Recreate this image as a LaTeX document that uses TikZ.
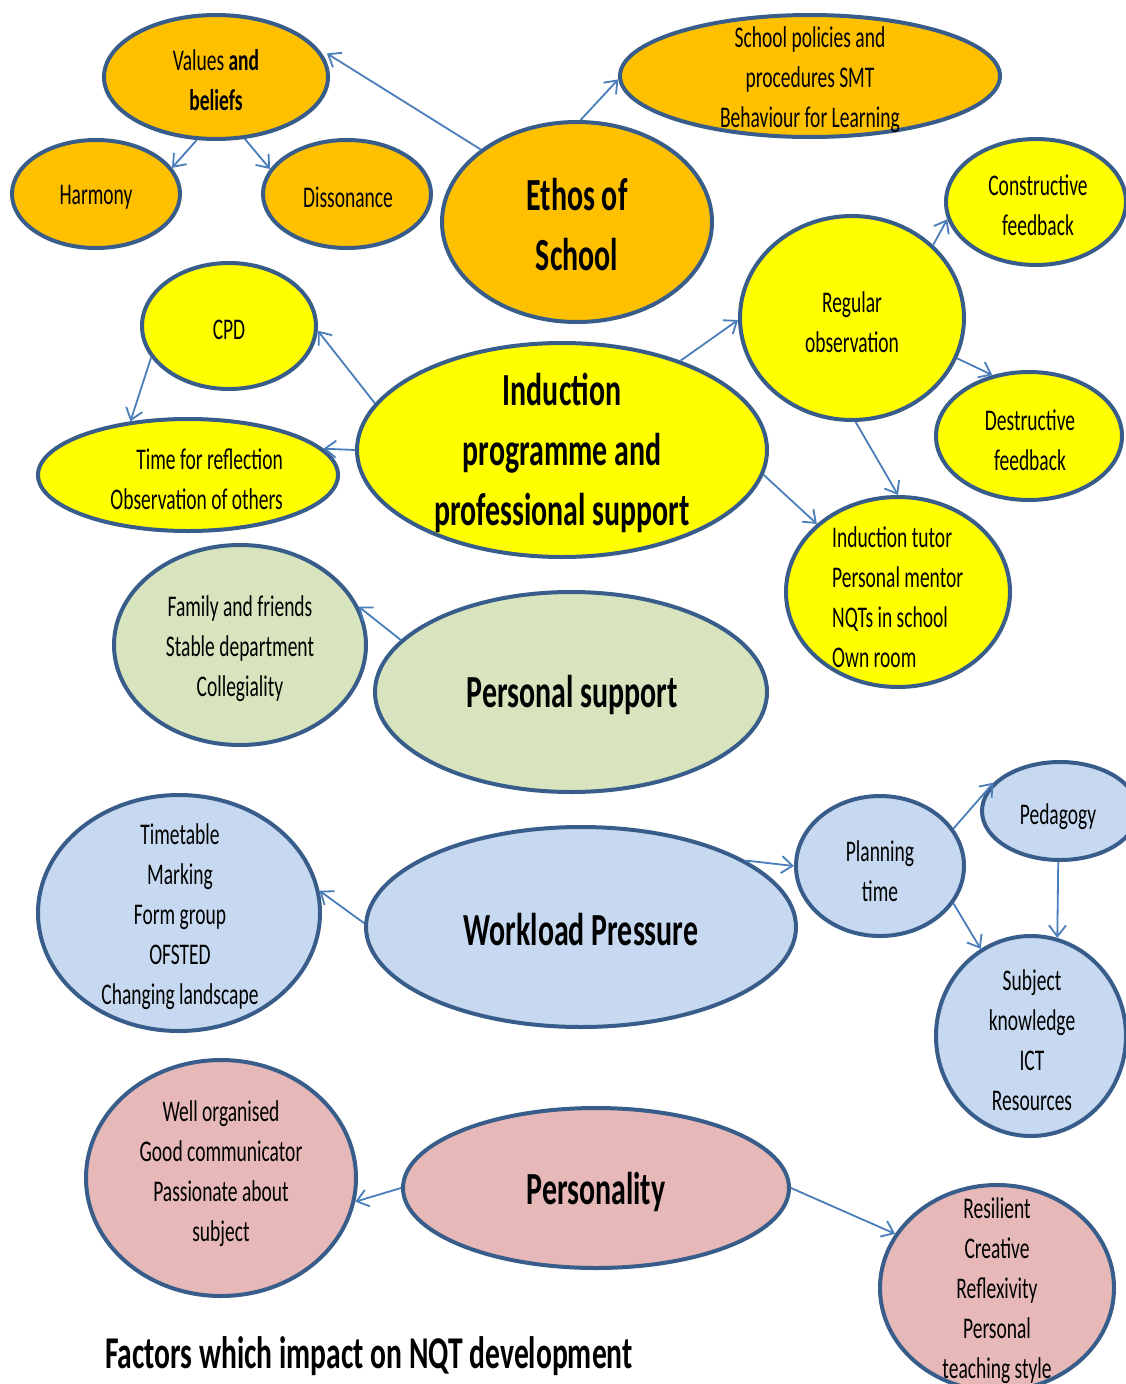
\documentclass[tikz,border=0pt]{standalone}
\usepackage{fontspec}
\setmainfont{Carlito}[FakeStretch=0.65]
\usetikzlibrary{shapes.geometric,arrows.meta}
\definecolor{orangeF}{HTML}{FFC000}
\definecolor{yellowF}{HTML}{FFFF00}
\definecolor{greenF}{HTML}{D7E4BD}
\definecolor{blueF}{HTML}{C6D9F1}
\definecolor{pinkF}{HTML}{E6B9B8}
\definecolor{edgeC}{HTML}{385D8A}
\definecolor{arrC}{HTML}{4A7EBB}
\tikzset{
  ell/.style={ellipse, draw=edgeC, line width=4pt, inner sep=0pt},
  arr/.style={draw=arrC, line width=1.8pt, -{Straight Barb[length=11pt,width=17pt,line width=1.8pt]}},
  txt/.style={font=\fontsize{30}{40}\selectfont, align=center, inner sep=0pt, yshift=-2pt},
  bigtxt/.style={font=\fontsize{46}{60}\selectfont\bfseries, align=center, inner sep=0pt},
}
\begin{document}
\begin{tikzpicture}[x=1pt,y=-1pt]
\useasboundingbox (0,0) rectangle (1126,1384);
% ellipses
\node[ell, fill=orangeF, minimum width=224, minimum height=124] (values) at (216,77) {};
\node[ell, fill=orangeF, minimum width=168, minimum height=108] (harmony) at (96,194) {};
\node[ell, fill=orangeF, minimum width=168, minimum height=108] (dissonance) at (347,194) {};
\node[ell, fill=orangeF, minimum width=270, minimum height=200] (ethos) at (577,222) {};
\node[ell, fill=orangeF, minimum width=380, minimum height=122] (policies) at (810,76) {};
\node[ell, fill=yellowF, minimum width=180, minimum height=126] (constructive) at (1036,202) {};
\node[ell, fill=yellowF, minimum width=224, minimum height=204] (regular) at (852,318) {};
\node[ell, fill=yellowF, minimum width=186, minimum height=128] (destructive) at (1029,436) {};
\node[ell, fill=yellowF, minimum width=174, minimum height=126] (cpd) at (229,326) {};
\node[ell, fill=yellowF, minimum width=300, minimum height=112] (reflection) at (188,475) {};
\node[ell, fill=yellowF, minimum width=410, minimum height=214] (induction) at (562,450) {};
\node[ell, fill=yellowF, minimum width=224, minimum height=190] (tutor) at (898,592) {};
\node[ell, fill=greenF, minimum width=252, minimum height=200] (family) at (240,645) {};
\node[ell, fill=greenF, minimum width=392, minimum height=200] (personal) at (571,692) {};
\node[ell, fill=blueF, minimum width=282, minimum height=236] (timetable) at (179,913) {};
\node[ell, fill=blueF, minimum width=430, minimum height=200] (workload) at (581,927) {};
\node[ell, fill=blueF, minimum width=168, minimum height=140] (planning) at (880,866) {};
\node[ell, fill=blueF, minimum width=156, minimum height=98] (pedagogy) at (1060,811) {};
\node[ell, fill=blueF, minimum width=190, minimum height=200] (subject) at (1031,1036) {};
\node[ell, fill=pinkF, minimum width=270, minimum height=236] (wellorg) at (221,1178) {};
\node[ell, fill=pinkF, minimum width=386, minimum height=160] (personality) at (596,1188) {};
\node[ell, fill=pinkF, minimum width=234, minimum height=206] (resilient) at (997,1288) {};
% connectors
\draw[arr] (ethos.143) -- ([shift={(8pt,-4pt)}]values.15);
\draw[arr] (ethos.88) -- (policies.181);
\draw[arr] (values.253) -- (harmony.19);
\draw[arr] (values.295) -- (dissonance.162);
\draw[arr] (induction.166) -- (cpd.357);
\draw[arr] (induction.180) -- (reflection.11);
\draw[arr] (cpd.202) -- (reflection.137);
\draw[arr] (induction.37) -- (regular.181);
\draw[arr] (induction.353) -- (tutor.140);
\draw[arr] (regular.42) -- (constructive.191);
\draw[arr] (regular.339) -- (destructive.121);
\draw[arr] (regular.272) -- (tutor.90);
\draw[arr] (personal.163) -- (family.18);
\draw[arr] (workload.179) -- (timetable.9);
\draw[arr] (workload.22) -- (planning.180);
\draw[arr] (planning.27) -- (pedagogy.157);
\draw[arr] (planning.333) -- (subject.120);
\draw[arr] (pedagogy.268) -- (subject.75);
\draw[arr] (personality.180) -- (wellorg.350);
\draw[arr] (personality.0) -- (resilient.152);
% texts
\node[txt] (valuesT) at (216,78) {Values \textbf{and}\\\textbf{beliefs}};
\node[txt] (harmonyT) at (96,195) {Harmony};
\node[txt] (dissonanceT) at (348,195) {Dissonance};
\node[bigtxt] (ethosT) at (577,225) {Ethos of\\School};
\node[txt] (policiesT) at (810,78) {School policies and\\procedures SMT\\Behaviour for Learning};
\node[txt] (constructiveT) at (1038,203) {Constructive\\feedback};
\node[txt] (regularT) at (852,320) {Regular\\observation};
\node[txt] (destructiveT) at (1030,438) {Destructive\\feedback};
\node[txt] (cpdT) at (229,328) {CPD};
\node[txt, align=right, anchor=east] (reflectionT) at (283,477) {Time for reflection\\Observation of others};
\node[bigtxt] (inductionT) at (562,453) {Induction\\programme and\\professional support};
\node[txt, align=left, anchor=west] (tutorT) at (832,595) {Induction tutor\\Personal mentor\\NQTs in school\\Own room};
\node[txt] (familyT) at (240,647) {Family and friends\\Stable department\\Collegiality};
\node[bigtxt] (personalT) at (572,695) {Personal support};
\node[txt] (timetableT) at (180,915) {Timetable\\Marking\\Form group\\OFSTED\\Changing landscape};
\node[bigtxt] (workloadT) at (581,930) {Workload Pressure};
\node[txt] (planningT) at (880,869) {Planning\\time};
\node[txt] (pedagogyT) at (1058,815) {Pedagogy};
\node[txt] (subjectT) at (1032,1038) {Subject\\knowledge\\ICT\\Resources};
\node[txt] (wellorgT) at (221,1172) {Well organised\\Good communicator\\Passionate about\\subject};
\node[bigtxt] (personalityT) at (596,1192) {Personality};
\node[txt] (resilientT) at (997,1289) {Resilient\\Creative\\Reflexivity\\Personal\\teaching style};
\node[bigtxt, anchor=west, font=\fontsize{45.5}{54}\selectfont\bfseries] (title) at (105,1356) {Factors which impact on NQT development};
\end{tikzpicture}
\end{document}
